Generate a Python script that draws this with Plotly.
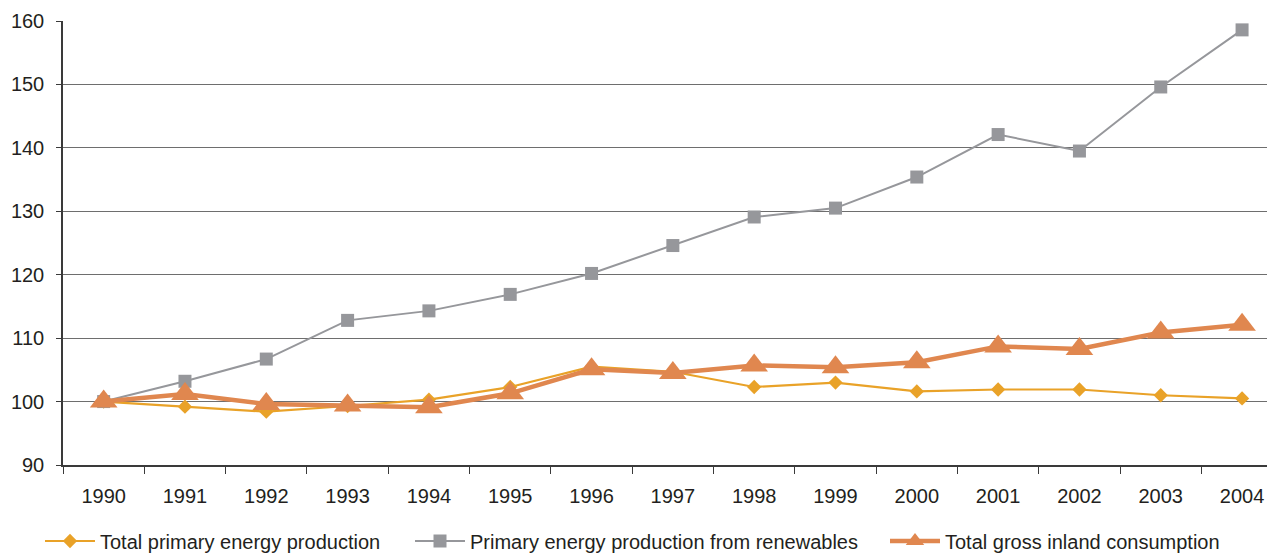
import plotly.graph_objects as go

years = [str(y) for y in range(1990, 2005)]
total_primary = [100.0, 99.2, 98.4, 99.3, 100.3, 102.3, 105.5, 104.7, 102.3, 103.0, 101.6, 101.9, 101.9, 101.0, 100.5]
renewables = [100.0, 103.2, 106.7, 112.8, 114.3, 116.9, 120.2, 124.6, 129.1, 130.5, 135.4, 142.1, 139.5, 149.6, 158.6]
gross_inland = [100.0, 101.2, 99.6, 99.4, 99.1, 101.3, 105.1, 104.5, 105.7, 105.4, 106.2, 108.7, 108.3, 110.9, 112.1]

fig = go.Figure()
fig.add_trace(go.Scatter(
    x=years, y=total_primary, name="Total primary energy production",
    mode="lines+markers", legend="legend",
    line=dict(color="#E9A228", width=2.2),
    marker=dict(symbol="diamond", size=11, color="#E9A228"),
))
fig.add_trace(go.Scatter(
    x=years, y=renewables, name="Primary energy production from renewables",
    mode="lines+markers", legend="legend2",
    line=dict(color="#96979B", width=2),
    marker=dict(symbol="square", size=13, color="#96979B"),
))
fig.add_trace(go.Scatter(
    x=years, y=gross_inland, name="Total gross inland consumption",
    mode="lines+markers", legend="legend3",
    line=dict(color="#E0874F", width=4.5),
    marker=dict(symbol="triangle-up", size=24, color="#E0874F"),
))

# page body has an 8px margin; the figure is offset by it
OFF = 8
leg_common = dict(orientation="h", xref="container", yref="container",
                  y=1 - (541 - OFF) / 559, yanchor="middle", xanchor="left",
                  font=dict(size=20, color="#231F20"), itemwidth=50,
                  bgcolor="rgba(0,0,0,0)")

fig.update_layout(
    width=1275, height=559,
    margin=dict(l=63 - OFF, r=OFF, t=21 - OFF, b=94 + OFF, autoexpand=False),
    paper_bgcolor="white", plot_bgcolor="white",
    font=dict(family="Liberation Sans, Arial, sans-serif", size=20, color="#231F20"),
    showlegend=True,
    legend=dict(x=32 / 1275, **leg_common),
    legend2=dict(x=402 / 1275, **leg_common),
    legend3=dict(x=877 / 1275, **leg_common),
    xaxis=dict(
        type="category", range=[-0.5, 14.405], automargin=False,
        showline=True, linecolor="#3A3A3A", linewidth=1.5,
        ticks="outside", tickson="boundaries", ticklen=7, tickcolor="#3A3A3A",
        ticklabelstandoff=12,
        showgrid=False, tickfont=dict(size=20),
    ),
    yaxis=dict(
        range=[90, 160], dtick=10, tick0=90, automargin=False,
        showline=True, linecolor="#3A3A3A", linewidth=1.5,
        ticks="outside", ticklen=5, tickcolor="#3A3A3A",
        ticklabelstandoff=8,
        showgrid=True, gridcolor="#6E6E6E", gridwidth=1,
        zeroline=False, tickfont=dict(size=20),
    ),
)

fig.write_html("out.html")
